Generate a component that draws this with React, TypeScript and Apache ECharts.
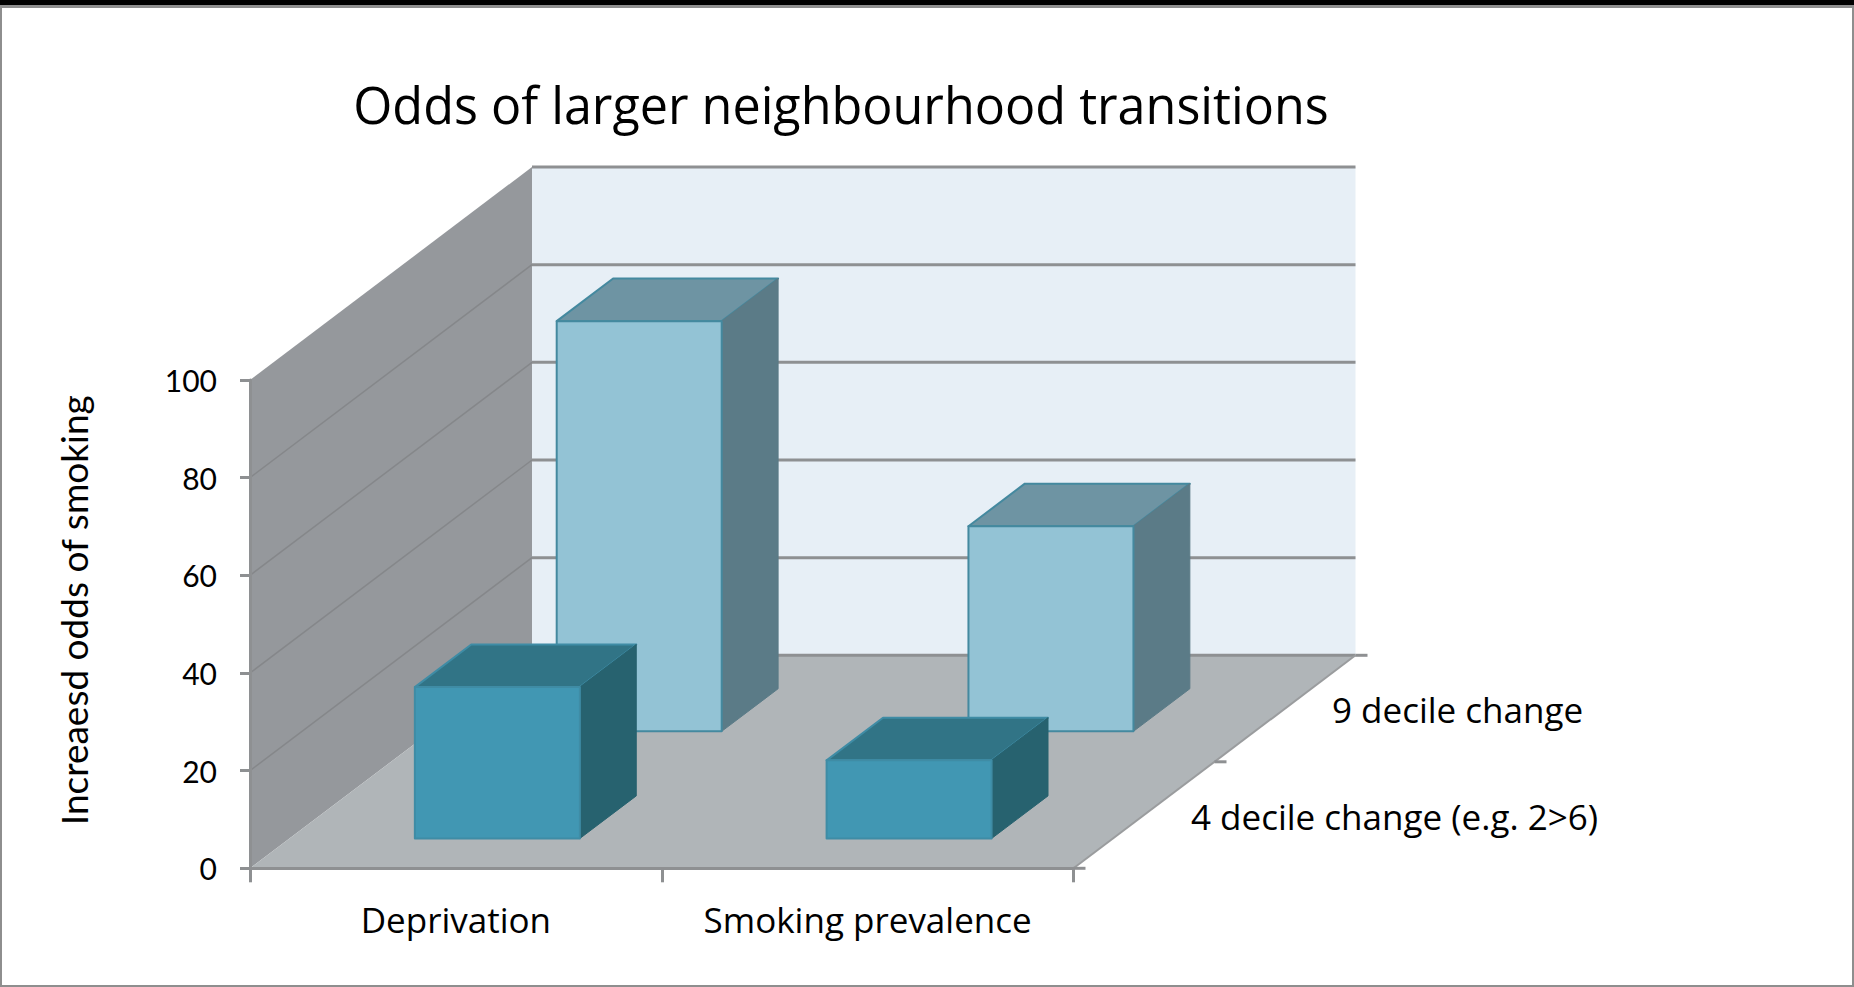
import React, { useEffect, useRef } from "react";
import * as echarts from "echarts";

// Chart content
const CHART_TITLE = "Odds of larger neighbourhood transitions";
const Y_AXIS_TITLE = "Increaesd odds of smoking";
const CATEGORIES = ["Deprivation", "Smoking prevalence"];
const DEPTH_LABELS = ["4 decile change (e.g. 2>6)", "9 decile change"];
const FOUR_DECILE_VALUES = [31, 16];
const NINE_DECILE_VALUES = [84, 42];
const Y_TICKS = [0, 20, 40, 60, 80, 100];

// Oblique projection of the depth axis, in pixels for the full floor depth
const DEPTH_DX = 282;
const DEPTH_DY = -213;
const BAR_WIDTH = 165;
const BAR_DEPTH = 0.2;
const FONT = "'Open Sans', sans-serif";
const NUM_FONT = "Lato, sans-serif";

const LIGHT_BAR = { face: "#93C3D5", top: "#6E94A3", side: "#5B7B87", edge: "#44899F" };
const DARK_BAR = { face: "#4197B3", top: "#317486", side: "#27626F", edge: "#3F8CA5" };

const shift = (p: number[], depth: number) => [p[0] + DEPTH_DX * depth, p[1] + DEPTH_DY * depth];

// Back wall, side wall, floor, gridlines and the depth axis annotations
function renderRoom(params: any, api: any) {
  const { x, y, width, height } = params.coordSys;
  const x2 = x + width;
  const y2 = y + height;
  const backLeft = shift([x, y2], 1);
  const backRight = shift([x2, y2], 1);
  const children: any[] = [
    {
      type: "polygon",
      shape: { points: [[backLeft[0], backLeft[1] - height], [backRight[0], backRight[1] - height], backRight, backLeft] },
      style: { fill: "#E7EFF6" },
    },
    {
      type: "polygon",
      shape: { points: [[x, y], shift([x, y], 1), backLeft, [x, y2]] },
      style: { fill: "#95989C" },
    },
    {
      type: "polygon",
      shape: { points: [[x, y2], backLeft, backRight, [x2, y2]] },
      style: { fill: "#B0B5B8" },
    },
  ];
  Y_TICKS.forEach((tick) => {
    const py = api.coord([0, tick])[1];
    const inner = shift([x, py], 1);
    if (tick > 0 && tick < Y_TICKS[Y_TICKS.length - 1]) {
      children.push({
        type: "line",
        shape: { x1: x, y1: py, x2: inner[0], y2: inner[1] },
        style: { stroke: "#85878A", lineWidth: 1.5 },
      });
    }
    children.push({
      type: "line",
      shape: { x1: inner[0], y1: inner[1], x2: backRight[0], y2: inner[1] },
      style: { stroke: "#8E9092", lineWidth: 3 },
    });
  });
  children.push({
    type: "line",
    shape: { x1: x2, y1: y2, x2: backRight[0], y2: backRight[1] },
    style: { stroke: "#9A9C9E", lineWidth: 2 },
  });
  [0, 0.5, 1].forEach((depth) => {
    const p = shift([x2, y2], depth);
    children.push({
      type: "line",
      shape: { x1: p[0], y1: p[1], x2: p[0] + 12, y2: p[1] },
      style: { stroke: "#8E9092", lineWidth: 3 },
    });
  });
  DEPTH_LABELS.forEach((label, i) => {
    const p = shift([x2, y2], 0.25 + i * 0.5);
    children.push({
      type: "text",
      style: {
        text: label,
        x: p[0] + 47,
        y: p[1] + 1,
        fill: "#000",
        fontSize: 35,
        fontFamily: FONT,
        align: "left",
        verticalAlign: "middle",
      },
    });
  });
  return { type: "group", children };
}

// One oblique box: front face, top and side, standing on the floor at the given depth
function barRenderer(frontDepth: number, colours: typeof LIGHT_BAR) {
  return (_params: any, api: any) => {
    const category = api.value(0);
    const value = api.value(1);
    const base = shift(api.coord([category, 0]), frontDepth);
    const top = shift(api.coord([category, value]), frontDepth);
    const l = base[0] - BAR_WIDTH / 2 + 2;
    const r = l + BAR_WIDTH;
    const dx = DEPTH_DX * BAR_DEPTH;
    const dy = DEPTH_DY * BAR_DEPTH;
    const edge = { stroke: colours.edge, lineWidth: 2, lineJoin: "round" };
    return {
      type: "group",
      children: [
        {
          type: "polygon",
          shape: { points: [[l, top[1]], [l + dx, top[1] + dy], [r + dx, top[1] + dy], [r, top[1]]] },
          style: { fill: colours.top, ...edge },
        },
        {
          type: "polygon",
          shape: { points: [[r, top[1]], [r + dx, top[1] + dy], [r + dx, base[1] + dy], [r, base[1]]] },
          style: { fill: colours.side, stroke: colours.side, lineWidth: 1 },
        },
        {
          type: "rect",
          shape: { x: l, y: top[1], width: BAR_WIDTH, height: base[1] - top[1] },
          style: { fill: colours.face, ...edge },
        },
      ],
    };
  };
}

export default function App() {
  const ref = useRef<HTMLDivElement>(null);

  useEffect(() => {
    document.body.style.margin = "0";
    const chart = echarts.init(ref.current!, null, { renderer: "svg" });
    chart.setOption({
      animation: false,
      backgroundColor: "#fff",
      title: {
        text: CHART_TITLE,
        left: 836,
        top: 74,
        textAlign: "center",
        textStyle: { fontFamily: FONT, fontSize: 50.3, fontWeight: "normal", color: "#000" },
      },
      grid: { left: 250, top: 380, width: 823.5, height: 488.3 },
      xAxis: {
        type: "category",
        data: CATEGORIES,
        z: 4,
        axisLine: { lineStyle: { color: "#8E9092", width: 3 } },
        axisTick: { show: true, interval: 0, length: 14, alignWithLabel: false, lineStyle: { color: "#8E9092", width: 3 } },
        axisLabel: { color: "#000", fontFamily: FONT, fontSize: 35, margin: 34, interval: 0, hideOverlap: false },
      },
      yAxis: {
        type: "value",
        min: 0,
        max: 100,
        interval: 20,
        z: 4,
        name: Y_AXIS_TITLE,
        nameLocation: "middle",
        nameRotate: 90,
        nameGap: 158,
        nameTextStyle: { color: "#000", fontFamily: NUM_FONT, fontSize: 37, padding: [0, 0, 0, 28] },
        splitLine: { show: false },
        axisLine: { show: true, lineStyle: { color: "#8E9092", width: 3 } },
        axisTick: { show: true, length: 10, lineStyle: { color: "#8E9092", width: 3 } },
        axisLabel: { color: "#000", fontFamily: NUM_FONT, fontSize: 30, margin: 33 },
      },
      series: [
        { type: "custom", name: "Room", z: 1, silent: true, clip: false, data: [[0, 0]], renderItem: renderRoom },
        {
          type: "custom",
          name: DEPTH_LABELS[1],
          z: 2,
          clip: false,
          encode: { x: 0, y: 1 },
          data: NINE_DECILE_VALUES.map((v, i) => [i, v]),
          renderItem: barRenderer(0.643, LIGHT_BAR),
        },
        {
          type: "custom",
          name: DEPTH_LABELS[0],
          z: 3,
          clip: false,
          encode: { x: 0, y: 1 },
          data: FOUR_DECILE_VALUES.map((v, i) => [i, v]),
          renderItem: barRenderer(0.14, DARK_BAR),
        },
      ],
      graphic: [
        { type: "rect", shape: { x: 0, y: 0, width: 1854, height: 5 }, style: { fill: "#000" }, z: 10 },
        { type: "rect", shape: { x: 0, y: 5, width: 1854, height: 3 }, style: { fill: "#8E8E8E" }, z: 10 },
        { type: "rect", shape: { x: 0, y: 5, width: 2, height: 982 }, style: { fill: "#8E8E8E" }, z: 10 },
        { type: "rect", shape: { x: 1852, y: 5, width: 2, height: 982 }, style: { fill: "#8E8E8E" }, z: 10 },
        { type: "rect", shape: { x: 0, y: 985, width: 1854, height: 2 }, style: { fill: "#8E8E8E" }, z: 10 },
      ],
    });
    return () => chart.dispose();
  }, []);

  return <div ref={ref} style={{ width: 1854, height: 987, overflow: "hidden" }} />;
}
